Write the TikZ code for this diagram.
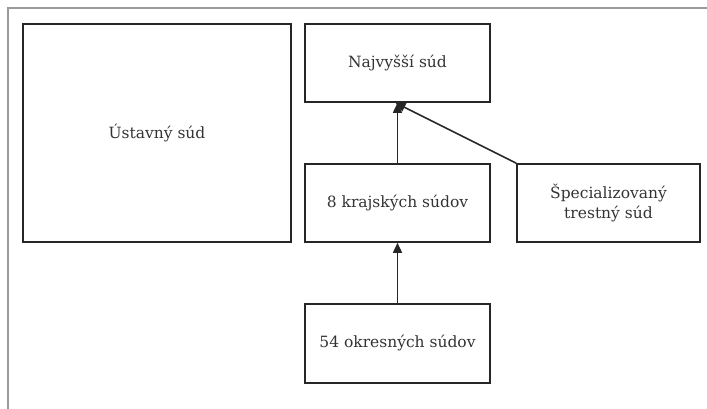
\documentclass[tikz,border=0pt]{standalone}
\usepackage{fontspec}
\setmainfont{DejaVu Serif}
\usetikzlibrary{arrows.meta}
\definecolor{framegray}{HTML}{9A9A9A}
\definecolor{textgray}{HTML}{333333}
\tikzset{
  court/.style={draw=black!85, line width=1.6pt, text=textgray, align=center,
    inner sep=0pt, font=\fontsize{15.5}{20}\selectfont},
  appeal/.style={-{Triangle[length=10pt,width=9pt]}, line width=1.6pt, black!85}
}
\begin{document}
\begin{tikzpicture}[x=1pt,y=-1pt]
\useasboundingbox (0,0) rectangle (707,409);
\draw[framegray, line width=1.5pt] (8,409) -- (8,8) -- (707,8);
\node[court, minimum width=268pt, minimum height=218pt] (ustavny) at (157,133) {Ústavný súd};
\node[court, minimum width=185pt, minimum height=78pt] (najvyssi) at (397.5,63) {Najvyšší súd};
\node[court, minimum width=185pt, minimum height=78pt] (krajske) at (397.5,203) {8 krajských súdov};
\node[court, minimum width=183pt, minimum height=78pt] (special) at (608.5,203) {Špecializovaný\\trestný súd};
\node[court, minimum width=185pt, minimum height=79pt] (okresne) at (397.5,343.5) {54 okresných súdov};
\draw[appeal] (krajske) -- (najvyssi);
\draw[appeal] (special.north west) -- ([xshift=-2pt]najvyssi.south);
\draw[appeal] (okresne) -- (krajske);
\end{tikzpicture}
\end{document}
